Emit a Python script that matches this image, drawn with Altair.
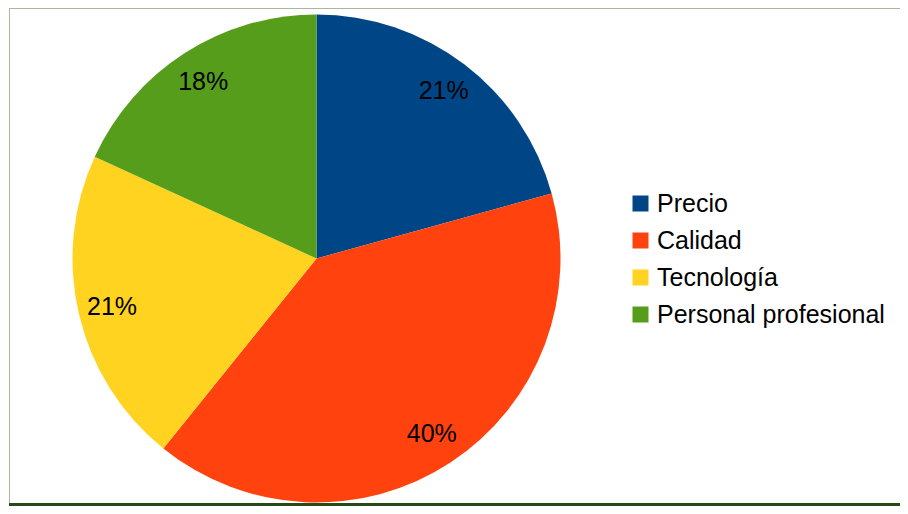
import altair as alt
import pandas as pd

categories = ["Precio", "Calidad", "Tecnología", "Personal profesional"]
values = [20.7, 40.1, 21.05, 18.15]
labels = ["21%", "40%", "21%", "18%"]
colors = ["#004586", "#ff420e", "#ffd320", "#579d1c"]

df = pd.DataFrame({
    "cat": categories,
    "val": values,
    "lab": labels,
    "idx": list(range(len(categories))),
})

CX, CY, R = 308.5, 250.5, 244
FONT = "Liberation Sans"

base = alt.Chart(df).encode(
    theta=alt.Theta("val:Q", stack=True),
    order=alt.Order("idx:Q"),
)

pie = base.mark_arc(outerRadius=R).encode(
    x=alt.value(CX),
    y=alt.value(CY),
    color=alt.Color(
        "cat:N",
        scale=alt.Scale(domain=categories, range=colors),
        sort=categories,
        legend=alt.Legend(
            title=None,
            orient="none",
            legendX=620,
            legendY=183,
            symbolType="square",
            symbolSize=256,
            symbolStrokeWidth=0,
            labelFont=FONT,
            labelFontSize=25,
            labelColor="#000000",
            labelOffset=4,
            rowPadding=11,
            labelLimit=400,
        ),
    ),
)

text = base.mark_text(radius=210, font=FONT, fontSize=25, color="#000000").encode(
    x=alt.value(CX),
    y=alt.value(CY),
    text="lab:N",
)

one = pd.DataFrame({"a": [0]})
left_line = alt.Chart(one).mark_rule(color="#a8b8a0", strokeWidth=1).encode(
    x=alt.value(1.5), y=alt.value(0), y2=alt.value(497)
)
top_line = alt.Chart(one).mark_rule(color="#a8b8a0", strokeWidth=1).encode(
    x=alt.value(1), x2=alt.value(892), y=alt.value(0.5)
)
bottom_line = alt.Chart(one).mark_rule(color="#254a15", strokeWidth=3).encode(
    x=alt.value(1), x2=alt.value(892), y=alt.value(496.5)
)

chart = alt.layer(pie, text, left_line, top_line, bottom_line).properties(
    width=892,
    height=498,
    autosize=alt.AutoSizeParams(type="none"),
    padding=0,
    background="#ffffff",
).configure_view(stroke=None)

chart.save("out.html", embed_options={"renderer": "svg", "actions": False})
